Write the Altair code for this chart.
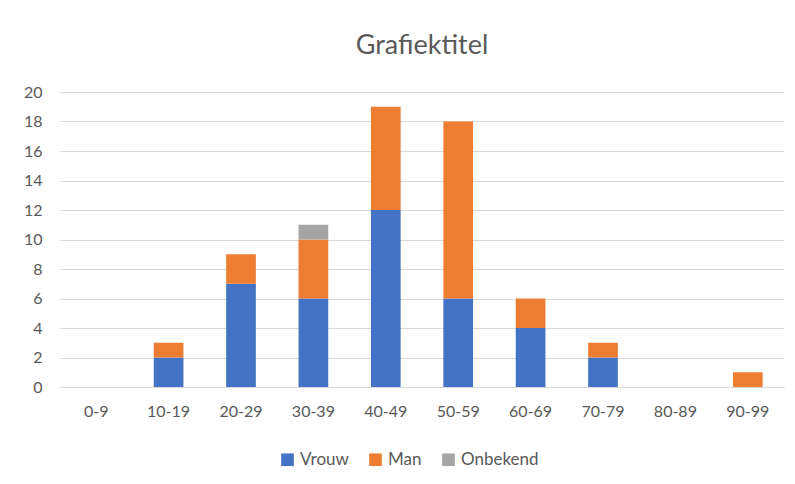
import altair as alt
import pandas as pd

categories = ["0-9", "10-19", "20-29", "30-39", "40-49", "50-59", "60-69", "70-79", "80-89", "90-99"]
series = ["Vrouw", "Man", "Onbekend"]
vrouw = [0, 2, 7, 6, 12, 6, 4, 2, 0, 0]
man = [0, 1, 2, 4, 7, 12, 2, 1, 0, 1]
onbekend = [0, 0, 0, 1, 0, 0, 0, 0, 0, 0]
colors = ["#4472C4", "#ED7D31", "#A5A5A5"]

rows = []
for i, c in enumerate(categories):
    for j, (s, vals) in enumerate(zip(series, [vrouw, man, onbekend])):
        rows.append({"leeftijd": c, "groep": s, "aantal": vals[i], "idx": j})
df = pd.DataFrame(rows)

text_color = "#595959"
font = "Lato"

bars = alt.Chart(df).mark_bar().encode(
    x=alt.X("leeftijd:N", sort=categories, title=None,
            scale=alt.Scale(domain=categories, paddingInner=0.59, paddingOuter=0.295),
            axis=alt.Axis(labelAngle=0, ticks=False, domain=True, domainColor="#D9D9D9",
                          labelPadding=16, labelFontSize=16, labelColor=text_color, labelFont=font)),
    y=alt.Y("aantal:Q", title=None, stack="zero",
            scale=alt.Scale(domain=[0, 20], nice=False),
            axis=alt.Axis(values=list(range(0, 21, 2)), ticks=False, domain=False,
                          gridColor="#D9D9D9", gridWidth=1, labelPadding=18,
                          labelFontSize=16, labelColor=text_color, labelFont=font)),
    color=alt.Color("groep:N", sort=series,
                    scale=alt.Scale(domain=series, range=colors),
                    legend=alt.Legend(title=None, orient="none", direction="horizontal",
                                      legendX=219, legendY=359,
                                      symbolType="square", symbolSize=160, symbolStrokeWidth=0,
                                      labelFontSize=17, labelColor=text_color, labelFont=font,
                                      columnPadding=18, symbolOffset=0, labelOffset=4)),
    order=alt.Order("idx:Q", sort="ascending"),
)

chart = bars.properties(
    width=724,
    height=295,
    padding={"left": 52, "top": 84, "right": 3, "bottom": 90},
    autosize=alt.AutoSizeParams(type="none"),
    title=alt.TitleParams("Grafiektitel", fontSize=27, font=font, fontWeight="normal",
                          color=text_color, anchor="middle", offset=24),
).configure_view(stroke=None)

chart.save("out.html", embed_options={"renderer": "svg", "actions": False})
